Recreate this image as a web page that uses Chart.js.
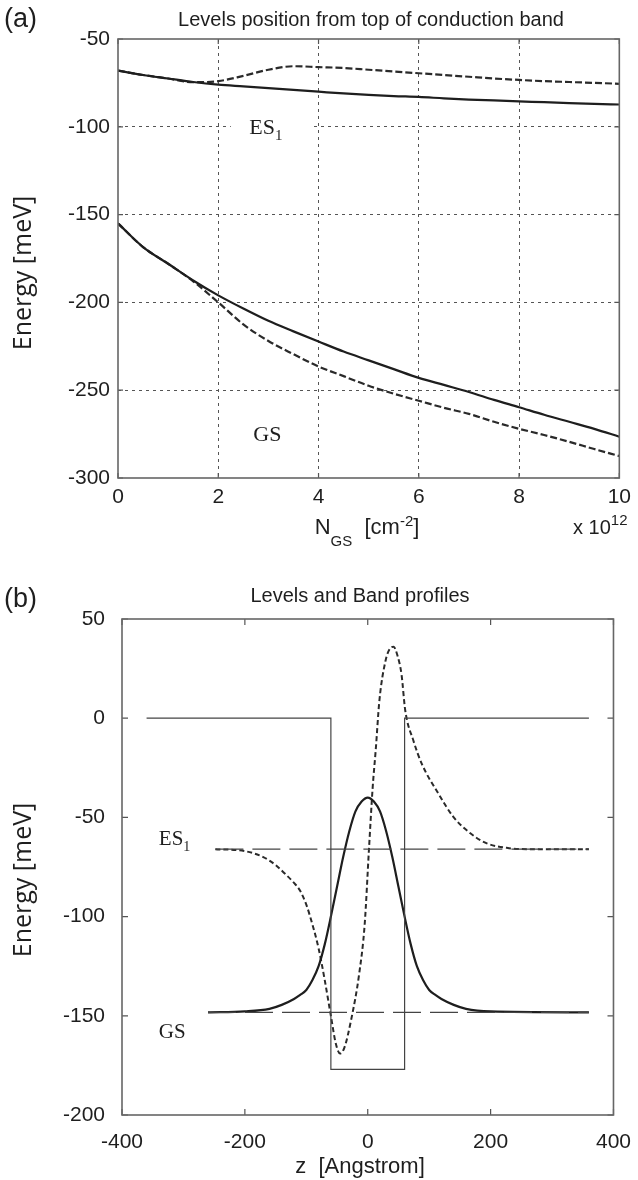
<!DOCTYPE html>
<html><head><meta charset="utf-8">
<script src="https://cdn.jsdelivr.net/npm/chart.js@4"></script>
<style>
html,body{margin:0;padding:0;background:#fff;}
#ca{position:absolute;left:0;top:0;}
#cb{position:absolute;left:0;top:580px;}
</style></head><body>
<canvas id="ca" width="638" height="580"></canvas>
<canvas id="cb" width="638" height="600"></canvas>
<script>
// ---------- Panel (a) data ----------
const nGS = [0,0.5,1,1.5,2,2.5,3,3.5,4,4.5,5,5.5,6,6.5,7,7.5,8,8.5,9,9.5,10];
const es1Solid  = [-68,-70.5,-72.5,-74.5,-76,-77,-78,-79,-80,-81,-81.8,-82.5,-83,-83.8,-84.5,-85,-85.5,-86,-86.5,-87,-87.3];
const es1Dashed = [-68,-70.5,-72.5,-74.6,-74,-71,-67.5,-65.5,-66,-66.5,-67.5,-68.5,-69.5,-70.5,-71.5,-72.5,-73.3,-74,-74.5,-75,-75.5];
const gsSolid   = [-155,-168.5,-178,-187.5,-196,-203.5,-210.5,-216.5,-222.3,-228,-233,-238,-243,-247,-251,-255.5,-259.7,-264,-268,-272,-276.5];
const gsDashed  = [-155,-168.5,-178,-188,-200,-212.5,-222,-229.5,-236.5,-242,-247.5,-252,-256,-260,-263.5,-268,-272,-275.5,-279.4,-283.5,-287.5];
const nTicksA = [0,2,4,6,8,10];
const eTicksA = [-300,-250,-200,-150,-100,-50];

// ---------- Panel (b) data ----------
const bandZ = [-360,-60,-60,60,60,360];
const bandE = [0,0,-177,-177,0,0];
const es1LevelZ = [-248,360];
const es1Level  = [-66,-66];
const gsLevelZ  = [-260,360];
const gsLevel   = [-148.3,-148.3];
const gsWaveZ = [-260,-200,-160,-140,-120,-110,-100,-90,-80,-70,-60,-50,-40,-30,-20,-10,0,10,20,30,40,50,60,70,80,90,100,110,120,140,160,200,360];
const gsWave  = [-148.3,-147.8,-146.5,-144.5,-141.5,-139.5,-137,-132,-125,-114,-100,-85,-70,-57,-47,-42,-40,-42,-47,-57,-70,-85,-100,-114,-125,-132,-137,-139.5,-141.5,-144.5,-146.5,-147.8,-148.3];
const es1WaveZ = [-248,-200,-170,-150,-136,-120,-110,-100,-90,-80,-70,-60,-52,-45,-38,-27,-14,-5,2,8,13,19,29,36,42,48,55,61,74,88,115,140,167,193,230,260,360];
const es1Wave  = [-66,-67,-70,-74,-78,-83,-87,-94,-104,-116,-132,-150,-164,-169,-166,-152,-129,-104,-66,-35,-16,9,29,35,36,32,22,4,-11,-23,-38,-50,-58,-63,-65.5,-66,-66];
const zTicksB = [-400,-200,0,200,400];
const eTicksB = [-200,-150,-100,-50,0,50];

const SANS = "'Liberation Sans', Arial, Helvetica, sans-serif";
const SERIF = "'Liberation Serif', 'Times New Roman', serif";
const LAB = "'Open Sans', 'Liberation Sans', sans-serif";
const INK = '#1e1e1e';

function pts(xs, ys){ return xs.map((x,i)=>({x:x, y:ys[i]})); }

function rich(ctx, parts, x, y, align){
  let total = 0;
  parts.forEach(p=>{ ctx.font = p.size+'px '+(p.family||SANS); p.w = ctx.measureText(p.t).width; total += p.w; });
  let cx = align==='center' ? x - total/2 : x;
  ctx.textAlign='left'; ctx.textBaseline='alphabetic';
  parts.forEach(p=>{ ctx.font = p.size+'px '+(p.family||SANS); ctx.fillText(p.t, cx, y + (p.dy||0)); cx += p.w; });
}

function framePlugin(opts){
  return {
    id:'frame'+opts.key,
    beforeDatasetsDraw(chart){
      if(opts.gap){ const ctx=chart.ctx, xs=chart.scales.x, ys=chart.scales.y;
        const yy = ys.getPixelForValue(opts.gap.y);
        ctx.save(); ctx.fillStyle='#fff';
        ctx.fillRect(xs.getPixelForValue(opts.gap.x0), yy-3, xs.getPixelForValue(opts.gap.x1)-xs.getPixelForValue(opts.gap.x0), 6);
        ctx.restore(); }
    },
    afterDraw(chart){
      const ctx = chart.ctx, a = chart.chartArea, xs=chart.scales.x, ys=chart.scales.y;
      ctx.save();
      // inward ticks
      ctx.strokeStyle='#555'; ctx.lineWidth=1.2; ctx.beginPath();
      opts.xt.forEach(v=>{ const px=xs.getPixelForValue(v);
        ctx.moveTo(px,a.bottom); ctx.lineTo(px,a.bottom-opts.tl);
        ctx.moveTo(px,a.top); ctx.lineTo(px,a.top+opts.tl); });
      opts.yt.forEach(v=>{ const py=ys.getPixelForValue(v);
        ctx.moveTo(a.left,py); ctx.lineTo(a.left+opts.tl,py);
        ctx.moveTo(a.right,py); ctx.lineTo(a.right-opts.tl,py); });
      ctx.stroke();
      // frame
      ctx.strokeStyle='#666'; ctx.lineWidth=1.6;
      ctx.strokeRect(a.left, a.top, a.right-a.left, a.bottom-a.top);
      ctx.fillStyle=INK;
      // panel letter
      ctx.font='27px '+SANS; ctx.textAlign='left'; ctx.textBaseline='middle';
      ctx.fillText(opts.letter, 4, opts.letterY);
      // title
      ctx.font='20px '+SANS; ctx.textAlign='center'; ctx.textBaseline='alphabetic';
      ctx.fillText(opts.title, opts.titleX, opts.titleY);
      // y axis title
      ctx.save(); ctx.translate(24, opts.yTitleY); ctx.rotate(-Math.PI/2);
      ctx.font='25px '+LAB; ctx.textAlign='center'; ctx.textBaseline='middle';
      ctx.fillText('Energy [meV]', 0, 0); ctx.restore();
      opts.extra(ctx, chart);
      ctx.restore();
    }
  };
}

function gridColor(edges){ return c => (c.tick && edges.includes(c.tick.value)) ? 'rgba(0,0,0,0)' : '#555'; }

// ---------- Chart (a) ----------
new Chart(document.getElementById('ca'), {
  type:'line',
  data:{ datasets:[
    {data:pts(nGS,es1Solid), borderColor:INK, borderWidth:2.2, pointRadius:0, cubicInterpolationMode:'monotone'},
    {data:pts(nGS,es1Dashed), borderColor:'#2a2a2a', borderWidth:2.2, borderDash:[7,3], pointRadius:0, cubicInterpolationMode:'monotone'},
    {data:pts(nGS,gsSolid), borderColor:INK, borderWidth:2.2, pointRadius:0, cubicInterpolationMode:'monotone'},
    {data:pts(nGS,gsDashed), borderColor:'#2a2a2a', borderWidth:2.2, borderDash:[7,3], pointRadius:0, cubicInterpolationMode:'monotone'}
  ]},
  options:{
    responsive:false, animation:false, events:[],
    layout:{padding:{left:0,right:12,top:39,bottom:52}},
    plugins:{legend:{display:false}, tooltip:{enabled:false}, title:{display:false}},
    scales:{
      x:{type:'linear', min:nGS[0], max:nGS[nGS.length-1],
         afterBuildTicks: s=>{ s.ticks = nTicksA.map(v=>({value:v})); },
         afterFit: s=>{ s.height=50; },
         ticks:{font:{family:SANS,size:21}, color:INK, padding:7, maxRotation:0},
         grid:{drawTicks:false, color:gridColor([0,10]), lineWidth:1},
         border:{display:false, dash:[3,4]}},
      y:{type:'linear', min:-300, max:-50,
         afterBuildTicks: s=>{ s.ticks = eTicksA.map(v=>({value:v})); },
         afterFit: s=>{ s.width=118; },
         ticks:{font:{family:SANS,size:21}, color:INK, padding:8},
         grid:{drawTicks:false, color:gridColor([-300,-50]), lineWidth:1},
         border:{display:false, dash:[3,4]}}
    }
  },
  plugins:[framePlugin({key:'a', letter:'(a)', letterY:20, title:'Levels position from top of conduction band', titleX:371, titleY:26, yTitleY:273,
    xt:nTicksA, yt:eTicksA, tl:5, gap:{x0:2.25, x1:3.9, y:-100},
    extra:(ctx, chart)=>{
      const xs=chart.scales.x, ys=chart.scales.y;
      rich(ctx,[{t:'N',size:22},{t:'GS',size:15,dy:12},{t:'  [cm',size:22},{t:'-2',size:15,dy:-8},{t:']',size:22}], 367, 534, 'center');
      rich(ctx,[{t:'x 10',size:20},{t:'12',size:15,dy:-9}], 573, 534, 'left');
      rich(ctx,[{t:'ES',size:22,family:SERIF},{t:'1',size:15,family:SERIF,dy:6}], xs.getPixelForValue(2.62), ys.getPixelForValue(-100)+7, 'left');
      rich(ctx,[{t:'GS',size:22,family:SERIF}], xs.getPixelForValue(2.7), ys.getPixelForValue(-279), 'left');
    }})]
});

// ---------- Chart (b) ----------
new Chart(document.getElementById('cb'), {
  type:'line',
  data:{ datasets:[
    {data:pts(bandZ,bandE), borderColor:'#444', borderWidth:1.2, pointRadius:0, tension:0},
    {data:pts(es1LevelZ,es1Level), borderColor:'#444', borderWidth:1.2, borderDash:[28,9], pointRadius:0, tension:0},
    {data:pts(gsLevelZ,gsLevel), borderColor:'#444', borderWidth:1.2, borderDash:[28,9], pointRadius:0, tension:0},
    {data:pts(gsWaveZ,gsWave), borderColor:INK, borderWidth:2.2, pointRadius:0, cubicInterpolationMode:'monotone'},
    {data:pts(es1WaveZ,es1Wave), borderColor:'#2a2a2a', borderWidth:2, borderDash:[5,3], pointRadius:0, cubicInterpolationMode:'monotone'}
  ]},
  options:{
    responsive:false, animation:false, events:[],
    layout:{padding:{left:0,right:20,top:39,bottom:15}},
    plugins:{legend:{display:false}, tooltip:{enabled:false}, title:{display:false}},
    scales:{
      x:{type:'linear', min:-400, max:400,
         afterBuildTicks: s=>{ s.ticks = zTicksB.map(v=>({value:v})); },
         afterFit: s=>{ s.height=50; },
         ticks:{font:{family:SANS,size:21}, color:INK, padding:7, maxRotation:0},
         grid:{display:false}, border:{display:false}},
      y:{type:'linear', min:-200, max:50,
         afterBuildTicks: s=>{ s.ticks = eTicksB.map(v=>({value:v})); },
         afterFit: s=>{ s.width=122; },
         ticks:{font:{family:SANS,size:21}, color:INK, padding:9},
         grid:{display:false}, border:{display:false}}
    }
  },
  plugins:[framePlugin({key:'b', letter:'(b)', letterY:20, title:'Levels and Band profiles', titleX:360, titleY:22, yTitleY:300,
    xt:zTicksB, yt:eTicksB, tl:6,
    extra:(ctx, chart)=>{
      const xs=chart.scales.x, ys=chart.scales.y;
      rich(ctx,[{t:'z  [Angstrom]',size:22}], 360, 593, 'center');
      rich(ctx,[{t:'ES',size:21,family:SERIF},{t:'1',size:14,family:SERIF,dy:6}], xs.getPixelForValue(-340), ys.getPixelForValue(-64), 'left');
      rich(ctx,[{t:'GS',size:21,family:SERIF}], xs.getPixelForValue(-340), ys.getPixelForValue(-161), 'left');
    }})]
});
</script>
</body></html>
